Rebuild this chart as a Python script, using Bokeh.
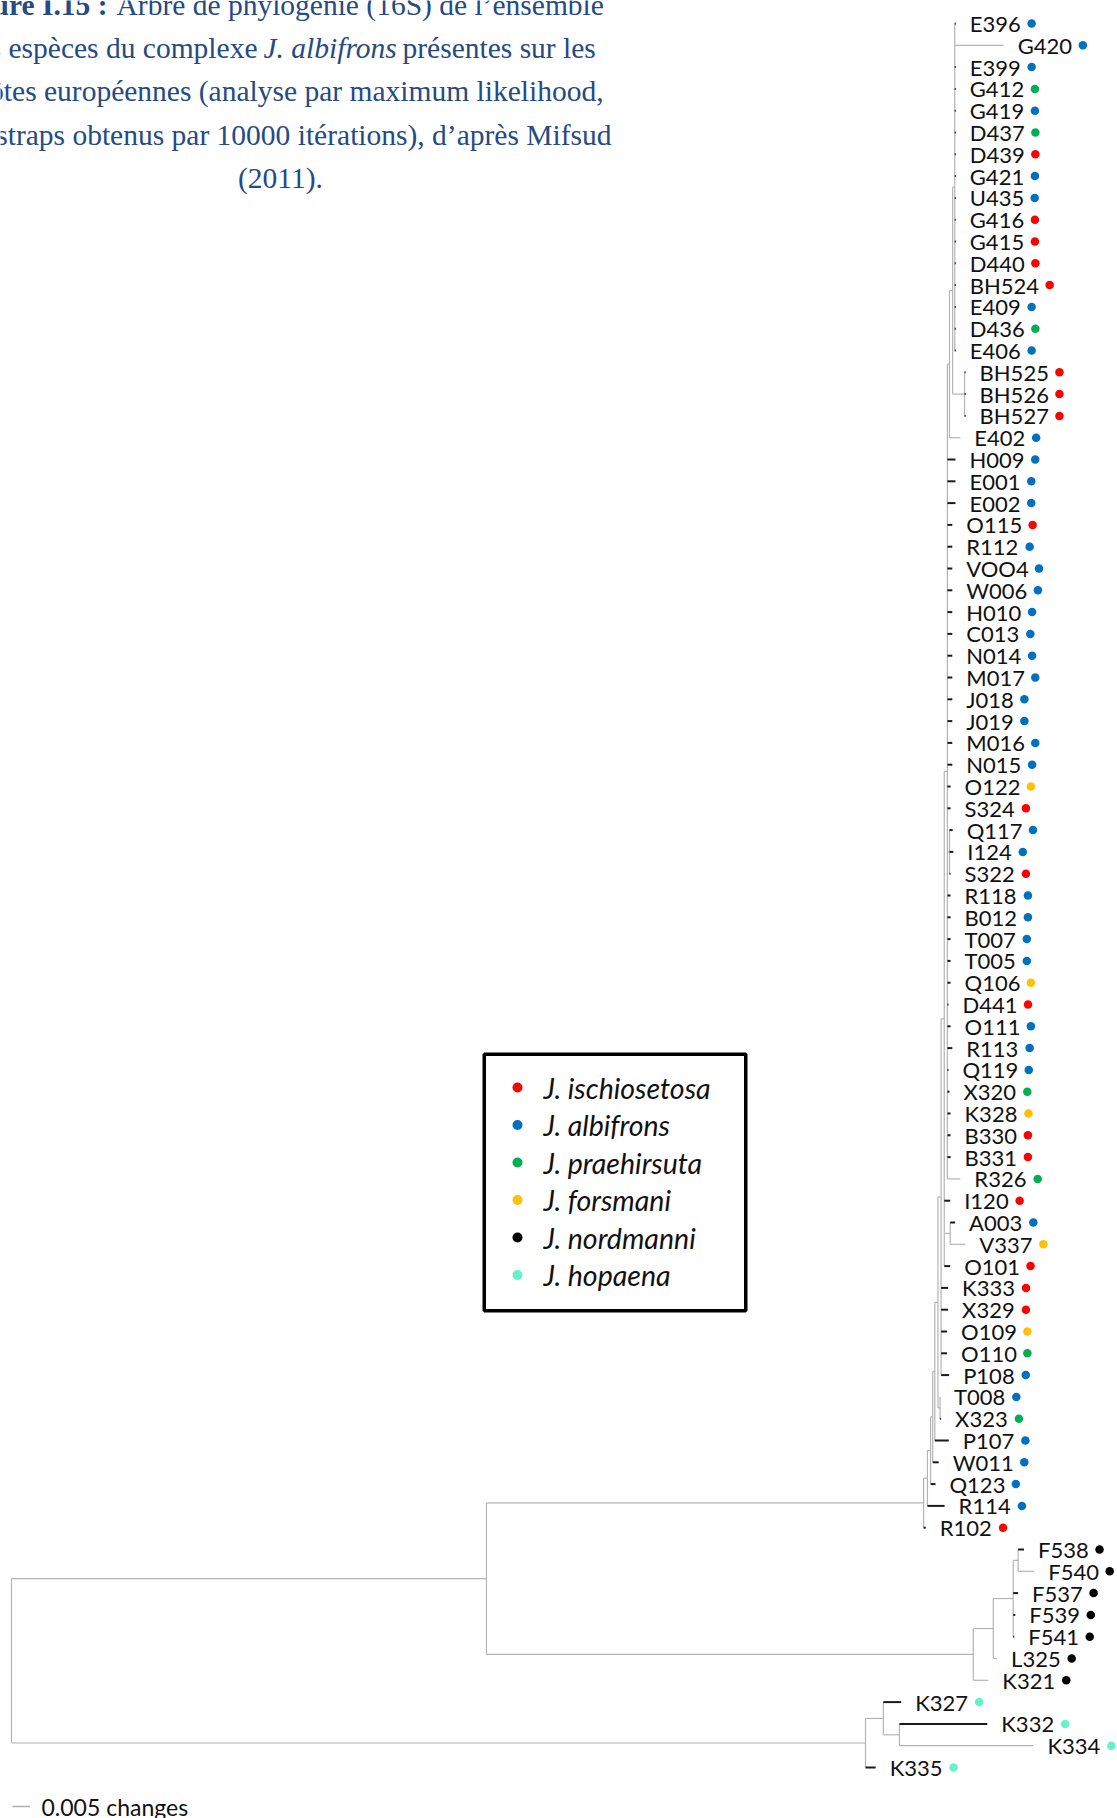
from bokeh.plotting import figure
from bokeh.models import Range1d
from bokeh.core.properties import value
from bokeh.embed import file_html
from bokeh.resources import INLINE

# ---------------- data ----------------
leaf_names = ["E396", "G420", "E399", "G412", "G419", "D437", "D439", "G421", "U435", "G416",
              "G415", "D440", "BH524", "E409", "D436", "E406", "BH525", "BH526", "BH527", "E402",
              "H009", "E001", "E002", "O115", "R112", "VOO4", "W006", "H010", "C013", "N014",
              "M017", "J018", "J019", "M016", "N015", "O122", "S324", "Q117", "I124", "S322",
              "R118", "B012", "T007", "T005", "Q106", "D441", "O111", "R113", "Q119", "X320",
              "K328", "B330", "B331", "R326", "I120", "A003", "V337", "O101", "K333", "X329",
              "O109", "O110", "P108", "T008", "X323", "P107", "W011", "Q123", "R114", "R102",
              "F538", "F540", "F537", "F539", "F541", "L325", "K321", "K327", "K332", "K334", "K335"]
# 0 ischiosetosa, 1 albifrons, 2 praehirsuta, 3 forsmani, 4 nordmanni, 5 hopaena
leaf_species = [1, 1, 1, 2, 1, 2, 0, 1, 1, 0,
                0, 0, 0, 1, 2, 1, 0, 0, 0, 1,
                1, 1, 1, 0, 1, 1, 1, 1, 1, 1,
                1, 1, 1, 1, 1, 3, 0, 1, 1, 0,
                1, 1, 1, 1, 3, 0, 1, 1, 1, 2,
                3, 0, 0, 2, 0, 1, 3, 0, 0, 0,
                3, 2, 1, 1, 2, 1, 1, 1, 1, 0,
                4, 4, 4, 4, 4, 4, 4, 5, 5, 5, 5]
species_names = ["J. ischiosetosa", "J. albifrons", "J. praehirsuta",
                 "J. forsmani", "J. nordmanni", "J. hopaena"]
species_colors = ["#FF0000", "#0070C0", "#00B050", "#FFC000", "#000000", "#66F2C8"]

# tree (Newick sub-clades, branch lengths in changes per site)
clade_top = ("(E396:0.0003,G420:0.0140,E399:0.0003,G412:0.0003,G419:0.0003,D437:0.0003,"
             "D439:0.0003,G421:0.0003,U435:0.0003,G416:0.0003,G415:0.0003,D440:0.0003,"
             "BH524:0.0003,E409:0.0003,D436:0.0003,E406:0.0003):0.0006")
clade_bh = "(BH525:0.0003,BH526:0.0003,BH527:0.0003):0.0034"
clade_u = "(" + clade_top + "," + clade_bh + "):0.0009"
clade_t = "(" + clade_u + ",E402:0.0031):0.0006"
clade_qis = "(Q117:0.0009,I124:0.0011,S322:0.0003):0.0006"
clade_m = ("(" + clade_t + ",H009:0.0023,E001:0.0023,E002:0.0023,O115:0.0014,R112:0.0014,"
           "VOO4:0.0014,W006:0.0014,H010:0.0014,C013:0.0014,N014:0.0014,M017:0.0014,"
           "J018:0.0014,J019:0.0014,M016:0.0014,N015:0.0014,O122:0.0009,S324:0.0009,"
           + clade_qis + ",R118:0.0009,B012:0.0009,T007:0.0009,T005:0.0009,Q106:0.0009,"
           "D441:0.0003,O111:0.0009,R113:0.0014,Q119:0.0003,X320:0.0006,K328:0.0009,"
           "B330:0.0009,B331:0.0009,R326:0.0037):0.0009")
clade_h = "(" + clade_m + ",I120:0.0017,(A003:0.0014,V337:0.0043):0.0017,O101:0.0017):0.0009"
clade_g = "(" + clade_h + ",K333:0.0020,X329:0.0020,O109:0.0017,O110:0.0017,P108:0.0023):0.0009"
clade_f = "(" + clade_g + ",(T008:0.0000,X323:0.0003):0.0006):0.0009"
clade_e = "(" + clade_f + ",P107:0.0040):0.0006"
clade_d = "(" + clade_e + ",W011:0.0017):0.0006"
clade_c = "(" + clade_d + ",Q123:0.0014):0.0009"
clade_b = "(" + clade_c + ",R114:0.0049):0.0011"
clade_albifrons = "(" + clade_b + ",R102:0.0006):0.1249"
clade_nordmanni = ("((((F538:0.0017,F540:0.0046):0.0014,F537:0.0014,F539:0.0006,F541:0.0003)"
                   ":0.0057,L325:0.0011):0.0057,K321:0.0043):0.1391")
clade_ingroup = "(" + clade_albifrons + "," + clade_nordmanni + "):0.1357"
clade_hopaena = "((K327:0.0051,(K332:0.0251,K334:0.0383):0.0046):0.0051,K335:0.0029):0.2440"
tree_newick = "(" + clade_ingroup + "," + clade_hopaena + ");"

scale_length = 0.005
scale_label = "0.005 changes"
caption_color = "#254A84"

# ---------------- layout constants ----------------
PX_PER_CHANGE = 3500.0
ROOT_X = 11.0
Y0 = 23.0
DY = 21.8
LABEL_GAP = 14.0
DOT_GAP = 11.0
LABEL_SIZE = 22.0

LATO_W = {'A': 0.68, 'B': 0.64, 'C': 0.67, 'D': 0.74, 'E': 0.57, 'F': 0.555, 'G': 0.72,
          'H': 0.75, 'I': 0.28, 'J': 0.40, 'K': 0.665, 'L': 0.515, 'M': 0.895, 'N': 0.75,
          'O': 0.775, 'P': 0.605, 'Q': 0.775, 'R': 0.64, 'S': 0.55, 'T': 0.59, 'U': 0.71,
          'V': 0.675, 'W': 1.015, 'X': 0.66}


def text_width(s, size):
    return sum(LATO_W.get(ch, 0.58) for ch in s) * size


def parse_newick(s):
    s = "".join(s.split())
    pos = 0

    def node():
        nonlocal pos
        children = []
        if s[pos] == '(':
            pos += 1
            while True:
                children.append(node())
                if s[pos] == ',':
                    pos += 1
                elif s[pos] == ')':
                    pos += 1
                    break
                else:
                    raise ValueError("bad newick at %d" % pos)
        start = pos
        while pos < len(s) and s[pos] not in ':,();':
            pos += 1
        name = s[start:pos]
        length = 0.0
        if pos < len(s) and s[pos] == ':':
            pos += 1
            start = pos
            while pos < len(s) and s[pos] not in ',();':
                pos += 1
            length = float(s[start:pos])
        return {"name": name, "len": length, "children": children}

    return node()


tree = parse_newick(tree_newick)
leaf_counter = [0]


def layout(n, parent_x):
    n["x"] = parent_x + n["len"] * PX_PER_CHANGE
    if not n["children"]:
        n["y"] = Y0 + leaf_counter[0] * DY
        leaf_counter[0] += 1
    else:
        for c in n["children"]:
            layout(c, n["x"])
        n["y"] = (n["children"][0]["y"] + n["children"][-1]["y"]) / 2.0


layout(tree, ROOT_X)

light_tips = {"G420", "R326", "V337", "F540", "E402", "K334", "K321", "L325"}

gx0, gy0, gx1, gy1 = [], [], [], []   # grey lines
dx0, dy0, dx1, dy1 = [], [], [], []   # dark tip branches
leaves = []


def collect(n):
    if not n["children"]:
        leaves.append(n)
        return
    xs = n["x"]
    gx0.append(xs); gy0.append(n["children"][0]["y"])
    gx1.append(xs); gy1.append(n["children"][-1]["y"])
    for c in n["children"]:
        if not c["children"] and c["name"] not in light_tips:
            dx0.append(xs); dy0.append(c["y"]); dx1.append(c["x"]); dy1.append(c["y"])
        else:
            gx0.append(xs); gy0.append(c["y"]); gx1.append(c["x"]); gy1.append(c["y"])
        collect(c)


collect(tree)

W, H = 1117, 1818
p = figure(width=W, height=H, x_range=Range1d(0, W), y_range=Range1d(H, 0),
           x_axis_type=None, y_axis_type=None, toolbar_location=None,
           output_backend="svg", min_border=0, outline_line_color=None,
           background_fill_color="white", border_fill_color="white")
p.grid.visible = False

p.segment(gx0, gy0, gx1, gy1, line_color="#b4b4b4", line_width=1.2)
p.segment(dx0, dy0, dx1, dy1, line_color="#1a1a1a", line_width=2)

sp_of = dict(zip(leaf_names, leaf_species))
lx = [n["x"] + LABEL_GAP for n in leaves]
ly = [n["y"] for n in leaves]
lt = [n["name"] for n in leaves]
p.text(lx, ly, text=lt, text_font=value("Lato"), text_font_size="%dpx" % LABEL_SIZE,
       text_baseline="middle", text_align="left", text_color="#111111")
dot_x = [x + text_width(t, LABEL_SIZE) + DOT_GAP for x, t in zip(lx, lt)]
dot_c = [species_colors[sp_of[t]] for t in lt]
p.scatter(dot_x, ly, size=8.5, fill_color=dot_c, line_color=None)

# scale bar
sb_y = Y0 + (len(leaf_names) - 1) * DY + 39
p.segment([12], [sb_y], [12 + scale_length * PX_PER_CHANGE], [sb_y], line_color="#b0b0b0", line_width=1.5)
p.text([41], [sb_y], text=[scale_label], text_font=value("Lato"), text_font_size="23px",
       text_baseline="middle", text_color="#111111")

# legend box
p.quad(left=[483.75], right=[745.25], top=[1053.75], bottom=[1310.25],
       fill_color="white", line_color="black", line_width=3.5)
leg_y = [1087 + 37.5 * i for i in range(len(species_names))]
p.scatter([517] * len(species_names), leg_y, size=10, fill_color=species_colors, line_color=None)
p.text([543] * len(species_names), leg_y, text=species_names, text_font=value("Lato"),
       text_font_size="28.5px", text_font_style="italic", text_baseline="middle",
       text_color="#111111")

# caption (cropped paragraph)
cap_font = value("Liberation Serif")
cs = "29.5px"


def cap(x, y, s, align="left", style="normal"):
    p.text([x], [y], text=[s], text_font=cap_font, text_font_size=cs, text_font_style=style,
           text_align=align, text_baseline="alphabetic", text_color=caption_color)


cap(107, 4, "Figure I.15 :", "right", "bold")
cap(116, 4, "Arbre de phylogénie (16S) de l’ensemble")
cap(257, 47, "des espèces du complexe", "right")
cap(263, 47, "J. albifrons", "left", "italic")
cap(402, 47, "présentes sur les")
cap(603, 90, "côtes européennes (analyse par maximum likelihood,", "right")
cap(611, 134, "bootstraps obtenus par 10000 itérations), d’après Mifsud", "right")
cap(280, 177, "(2011).", "center")

open("out.html", "w").write(file_html(p, INLINE))
